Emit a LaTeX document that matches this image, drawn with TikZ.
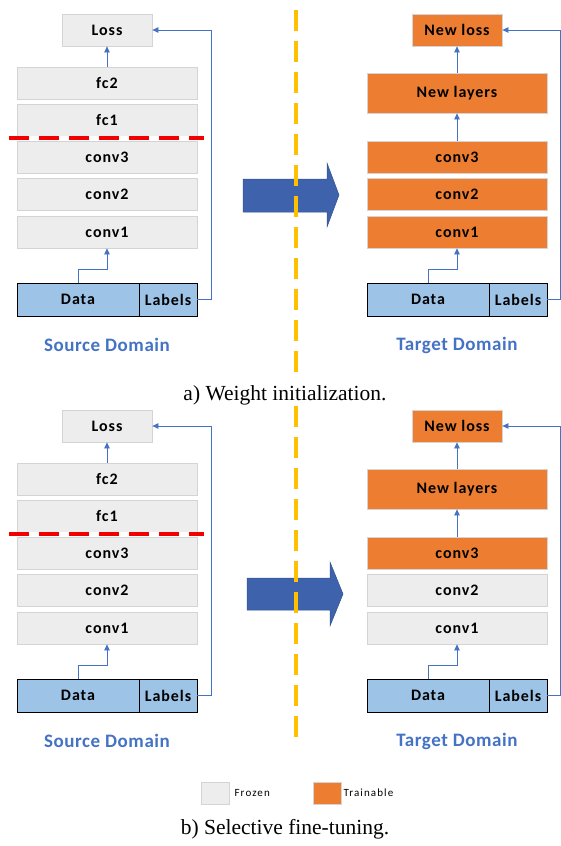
\documentclass[tikz,border=0pt]{standalone}
\usepackage{fontspec}
\setmainfont{Liberation Serif}
\newfontfamily\boxfont{Carlito}[LetterSpace=6]
\newfontfamily\domainfont{Carlito}[LetterSpace=3]
\newfontfamily\legendfont{Carlito}[LetterSpace=10]
\usetikzlibrary{arrows.meta, positioning}

\definecolor{frozen}{HTML}{EDEDED}
\definecolor{frozenline}{HTML}{D4D4D4}
\definecolor{trainable}{HTML}{ED7D31}
\definecolor{datablue}{HTML}{9DC3E6}
\definecolor{linkblue}{HTML}{4472C4}
\definecolor{bigblue}{HTML}{3F62AD}
\definecolor{bigblueline}{HTML}{2F528F}
\definecolor{divider}{HTML}{FFC000}
\definecolor{cutred}{HTML}{F20000}

\begin{document}
\begin{tikzpicture}[
        x=1pt, y=-1pt,
        layer/.style={draw=frozenline, line width=0.8pt, minimum width=180pt, minimum height=32pt, inner sep=0pt, font=\boxfont\bfseries\fontsize{16}{18}\selectfont},
        frozenlayer/.style={layer, fill=frozen},
        trainlayer/.style={layer, fill=trainable},
        inputbox/.style={draw=black, line width=0.9pt, fill=datablue, minimum height=33pt, inner sep=0pt, font=\boxfont\bfseries\fontsize{16}{18}\selectfont},
        link/.style={draw=linkblue, line width=0.8pt, -{Triangle[width=5.5pt,length=6pt]}},
        domainlabel/.style={text=linkblue, font=\domainfont\bfseries\fontsize{19}{21}\selectfont},
        captiontext/.style={anchor=base, font=\fontsize{21.5}{24}\selectfont},
        legendbox/.style={draw=frozenline, line width=0.8pt, minimum width=28pt, minimum height=22pt, inner sep=0pt},
        legendtext/.style={inner sep=1pt, font=\legendfont\fontsize{11}{13}\selectfont}
    ]
    \useasboundingbox (0,0) rectangle (561,846);

    % two rows: a) all target layers trained, b) only conv3 trained
    \foreach \p/\dy/\lowstyle in {a/0/trainlayer, b/396/frozenlayer} {
        \begin{scope}[shift={(0,\dy)}]
            % source network
            \node[frozenlayer, minimum width=90pt] (loss\p) at (107,30) {Loss};
            \node[frozenlayer] (fctwo\p) at (107,83) {fc2};
            \node[frozenlayer] (fcone\p) at (107,120) {fc1};
            \node[frozenlayer] (convthree\p) at (107,157) {conv3};
            \node[frozenlayer] (convtwo\p) at (107,194) {conv2};
            \node[frozenlayer] (convone\p) at (107,232) {conv1};
            \node[inputbox, minimum width=122pt] (data\p) at (78,299.5) {Data};
            \node[inputbox, minimum width=58pt] (labels\p) at (168,299.5) {Labels};
            \node[domainlabel] (source\p) at (107,345) {Source Domain};

            \draw[link] (data\p.north) -- ++(0,-13) -| (convone\p.south);
            \draw[link] (fctwo\p) -- (loss\p);
            \draw[link] (labels\p.east) -- ++(14,0) |- (loss\p.east);

            % where the copied part stops
            \draw[white, line width=3.4pt] (9,138) -- (204,138);
            \draw[cutred, line width=3.4pt, dash pattern=on 20pt off 10pt] (9,138) -- (204,138);

            % target network
            \node[trainlayer, minimum width=90pt] (newloss\p) at (457,30) {New loss};
            \node[trainlayer, minimum height=40pt] (newlayers\p) at (457,93) {New layers};
            \node[trainlayer] (tconvthree\p) at (457,157) {conv3};
            \node[\lowstyle] (tconvtwo\p) at (457,194) {conv2};
            \node[\lowstyle] (tconvone\p) at (457,232) {conv1};
            \node[inputbox, minimum width=122pt] (tdata\p) at (428,299.5) {Data};
            \node[inputbox, minimum width=58pt] (tlabels\p) at (518,299.5) {Labels};
            \node[domainlabel] (target\p) at (457,345) {Target Domain};

            \draw[link] (tdata\p.north) -- ++(0,-13) -| (tconvone\p.south);
            \draw[link] (tconvthree\p) -- (newlayers\p);
            \draw[link] (newlayers\p) -- (newloss\p);
            \draw[link] (tlabels\p.east) -- ++(13,0) |- (newloss\p.east);
        \end{scope}
    }

    % transfer arrows
    \fill[bigblue, draw=bigblueline, line width=0.5pt]
        (243,179) -- (327,179) -- (327,163) -- (339,195) -- (327,227) -- (327,212) -- (243,212) -- cycle;
    \fill[bigblue, draw=bigblueline, line width=0.5pt]
        (247,578) -- (330,578) -- (330,562) -- (343,594) -- (330,626) -- (330,610) -- (247,610) -- cycle;

    % dividers
    \draw[divider, line width=3.3pt, dash pattern=on 21pt off 10pt] (296,10) -- (296,372);
    \draw[divider, line width=3.3pt, dash pattern=on 21pt off 10pt] (296,406) -- (296,739);

    % captions
    \node[captiontext] (capa) at (285,400) {a) Weight initialization.};
    \node[captiontext] (capb) at (285,834) {b) Selective fine-tuning.};

    % legend
    \node[legendbox, fill=frozen] (frozenkey) at (215,793) {};
    \node[legendtext, right=4pt of frozenkey] (frozentext) {Frozen};
    \node[legendbox, fill=trainable] (trainkey) at (327,793) {};
    \node[legendtext, right=1pt of trainkey] (traintext) {Trainable};
\end{tikzpicture}
\end{document}
